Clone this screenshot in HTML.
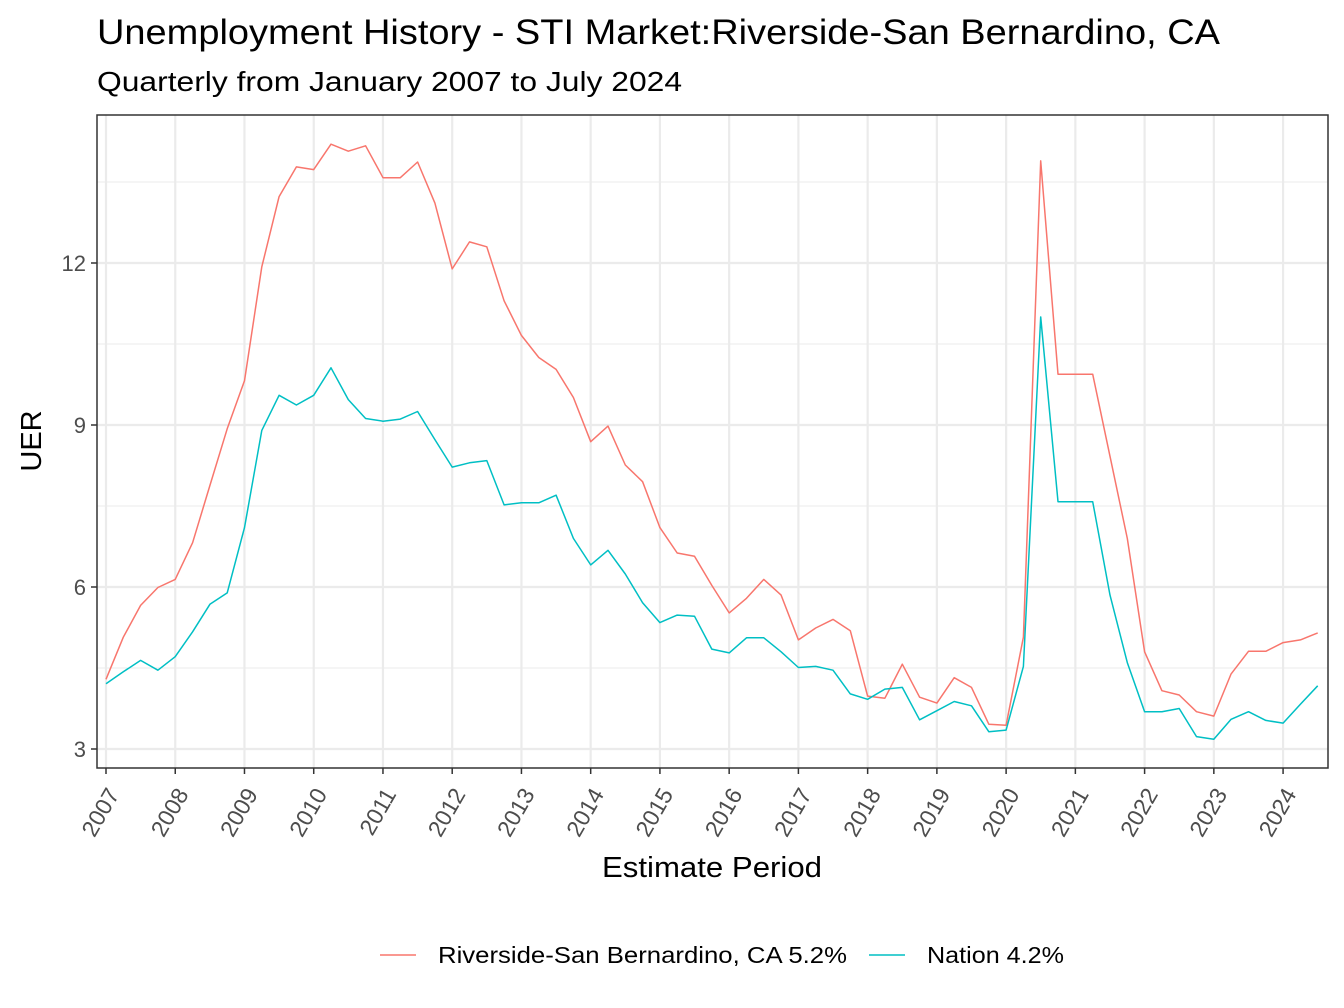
<!DOCTYPE html>
<html><head><meta charset="utf-8"><style>
body{margin:0;background:#fff;}
svg{display:block;font-family:"Liberation Sans",Arial,sans-serif;}
</style></head><body>
<svg id="chart" width="1344" height="1008" viewBox="0 0 1344 1008">
<text x="97" y="44" font-size="35" fill="#000" textLength="1123" lengthAdjust="spacingAndGlyphs">Unemployment History - STI Market:Riverside-San Bernardino, CA</text>
<text x="97" y="91" font-size="28" fill="#000" textLength="585" lengthAdjust="spacingAndGlyphs">Quarterly from January 2007 to July 2024</text>
<g id="grid"></g>
<g id="series"></g>
<rect x="97" y="115" width="1231" height="653" fill="none" stroke="#333" stroke-width="1.5"/>
<g id="axes"></g>
<text x="712" y="877" font-size="29" text-anchor="middle" fill="#000" textLength="220" lengthAdjust="spacingAndGlyphs">Estimate Period</text>
<text transform="translate(41,441) rotate(-90)" font-size="29" text-anchor="middle" fill="#000">UER</text>
<g>
<line x1="380" y1="955" x2="416" y2="955" stroke="#F8766D" stroke-width="1.5"/>
<text x="438" y="963" font-size="23" textLength="409" lengthAdjust="spacingAndGlyphs">Riverside-San Bernardino, CA 5.2%</text>
<line x1="869" y1="955" x2="905" y2="955" stroke="#00BFC4" stroke-width="1.5"/>
<text x="927" y="963" font-size="23" textLength="137" lengthAdjust="spacingAndGlyphs">Nation 4.2%</text>
</g>
</svg>
<script>
const startYear = 2007;
const riverside = [4.29,5.07,5.66,5.99, 6.14,6.82,7.88,8.93, 9.82,11.93,13.23,13.78, 13.73,14.2,14.07,14.17, 13.58,13.58,13.87,13.11, 11.89,12.39,12.3,11.3, 10.66,10.25,10.03,9.51, 8.69,8.98,8.26,7.95, 7.1,6.63,6.57,6.03, 5.52,5.79,6.14,5.85, 5.02,5.24,5.4,5.19, 3.98,3.94,4.57,3.96, 3.85,4.32,4.14,3.46, 3.44,5.07,13.89,9.94, 9.94,9.94,8.42,6.9, 4.8,4.08,4.0,3.69, 3.61,4.39,4.81,4.81, 4.97,5.02,5.15];
const nation = [4.21,4.43,4.64,4.46, 4.71,5.17,5.68,5.89, 7.1,8.9,9.55,9.37, 9.55,10.06,9.47,9.12, 9.07,9.11,9.25,8.73, 8.22,8.3,8.34,7.52, 7.56,7.56,7.7,6.9, 6.41,6.68,6.24,5.71, 5.34,5.48,5.46,4.85, 4.78,5.06,5.06,4.8, 4.51,4.53,4.46,4.02, 3.92,4.11,4.14,3.54, 3.71,3.88,3.8,3.32, 3.35,4.53,11.0,7.58, 7.58,7.58,5.85,4.6, 3.69,3.69,3.75,3.23, 3.18,3.55,3.69,3.53, 3.48,3.83,4.17];
const yTicks = [3,6,9,12];
const yMinor = [4.5,7.5,10.5,13.5];
const xTicks = [2007,2008,2009,2010,2011,2012,2013,2014,2015,2016,2017,2018,2019,2020,2021,2022,2023,2024];

const NS = "http://www.w3.org/2000/svg";
const xs = t => 106 + (t - 2007) * 69.24;
const ys = v => 749 - (v - 3) * 54;
function mk(tag, attrs, parent){const e=document.createElementNS(NS,tag);for(const k in attrs)e.setAttribute(k,attrs[k]);parent.appendChild(e);return e;}
const grid=document.getElementById('grid'), axes=document.getElementById('axes'), series=document.getElementById('series');
yMinor.forEach(v=>{const l=mk('line',{x1:97,x2:1328,y1:ys(v),y2:ys(v),stroke:'#ebebeb','stroke-width':1},grid);

});
yTicks.forEach(v=>{const l=mk('line',{x1:97,x2:1328,y1:ys(v),y2:ys(v),stroke:'#ebebeb','stroke-width':2.2},grid);


const t=mk('line',{x1:91,x2:97,y1:ys(v),y2:ys(v),stroke:'#333','stroke-width':1.5},axes);


const tx=mk('text',{x:86,y:ys(v)+8,'font-size':22,'text-anchor':'end',fill:'#4d4d4d'},axes);tx.textContent=v;

});
xTicks.forEach(yr=>{const x=xs(yr);
const l=mk('line',{x1:x,x2:x,y1:115,y2:768,stroke:'#ebebeb','stroke-width':2.2},grid);


const t=mk('line',{x1:x,x2:x,y1:768,y2:774,stroke:'#333','stroke-width':1.5},axes);


const tx=mk('text',{transform:`translate(${x+14},${794}) rotate(-60)`,'font-size':23,'text-anchor':'end',fill:'#4d4d4d'},axes);tx.textContent=yr;

});
function line(arr,color,name){const pts=arr.map((v,i)=>xs(startYear+i*0.25).toFixed(1)+','+ys(v).toFixed(1)).join(' ');
const p=mk('polyline',{points:pts,fill:'none',stroke:color,'stroke-width':1.5,'stroke-linejoin':'round'},series);

}
line(riverside,'#F8766D','riverside-line');
line(nation,'#00BFC4','nation-line');
</script>
</body></html>
